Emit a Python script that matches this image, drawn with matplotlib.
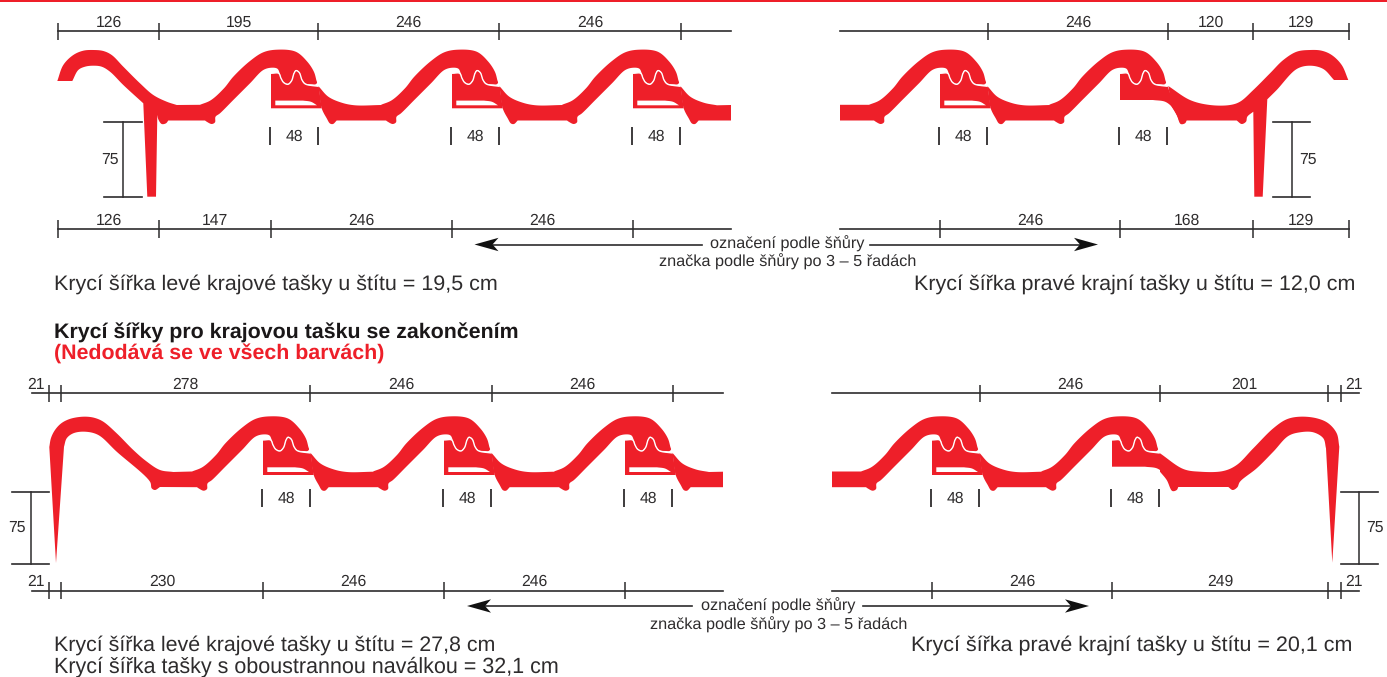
import numpy as np
import matplotlib
matplotlib.use('Agg')
import matplotlib.pyplot as plt

plt.rcParams['font.family'] = ['Liberation Sans', 'DejaVu Sans']
plt.rcParams['text.hinting'] = 'no_hinting'

RED = '#ee1f29'
INK = '#2e2c2d'

# dimension rows: tick x positions, labels between them
top_ticks_a = [58, 159, 318, 499, 681]
top_labels_a = ['126', '195', '246', '246']
bot_ticks_a = [58, 159, 271, 452, 633]
bot_labels_a = ['126', '147', '246', '246']
top_ticks_b = [988, 1168, 1253, 1349]
top_labels_b = ['246', '120', '129']
bot_ticks_b = [940, 1120, 1253, 1349]
bot_labels_b = ['246', '168', '129']
top_ticks_c = [61, 310, 492, 673]
top_labels_c = ['278', '246', '246']
bot_ticks_c = [61, 263, 444, 625]
bot_labels_c = ['230', '246', '246']
top_ticks_d = [980, 1160, 1328]
top_labels_d = ['246', '201']
bot_ticks_d = [932, 1112, 1328]
bot_labels_d = ['246', '249']

heads_a = [271, 452, 633]
heads_b = [940, 1120]
heads_c = [263, 444, 625]
heads_d = [932, 1112]
row_shift = 366.7
head_y = 73.3

# tile outline, relative to the head of a module (x) and the head top (y)
squiggle = [(0, 0), (7.7, 0), (10, 5), (12.7, 9.3), (17, 11), (20.7, 7.3), (22.7, 0.7), (25, -2.7), (28.3, -0.7),
            (31, 6.7), (34.3, 10.7), (47.7, 13)]
valley_up = [(48, 13.5), (57.3, 23.4), (70.7, 29.4), (84, 32), (110.7, 31.7)]
crest = [(-71, 31.5), (-60.3, 27), (-47, 15), (-37.7, 3.4), (-21, -12.3), (-7.7, -21), (5.7, -23.6), (24.7, -21.6),
         (36.3, -11.6), (43, -1.3), (45.3, 6.7), (46, 9.5), (44.5, 11), (41, 11), (36, 10.7), (34.3, 10.2),
         (31, 6.2), (28.3, -1.2), (25, -3.2), (22.7, 0.2), (20.7, 6.8), (17, 10.5), (12.7, 8.8), (10, 4.5),
         (9, 1), (6.5, -4.5), (0.7, -5.6), (-7.7, -3.3), (-21, 10), (-37.7, 26.7), (-51, 40), (-55.5, 43.5),
         (-56, 49), (-59.3, 50.7), (-64.3, 48.4), (-66, 47.2)]
valley_low = [(65.7, 47.2), (62, 50.7), (59, 50.2), (55.7, 45), (50.7, 35), (47.5, 13)]
slot_top = [(32, 27.3), (40, 28.5), (46, 32)]
short_under = [(60.7, 50.7), (56.7, 41.7), (51.7, 33.4), (45, 28.4), (33, 26.7)]


def smooth(pts, n=12):
    # centripetal catmull-rom through the outline points
    p = np.array(pts, float)
    p = np.vstack([2 * p[0] - p[1], p, 2 * p[-1] - p[-2]])
    out = []
    for i in range(1, len(p) - 2):
        p0, p1, p2, p3 = p[i - 1], p[i], p[i + 1], p[i + 2]
        t0 = 0.0
        t1 = t0 + np.linalg.norm(p1 - p0) ** 0.5
        t2 = t1 + np.linalg.norm(p2 - p1) ** 0.5
        t3 = t2 + np.linalg.norm(p3 - p2) ** 0.5
        for t in np.linspace(t1, t2, n, endpoint=False):
            a1 = (t1 - t) / (t1 - t0) * p0 + (t - t0) / (t1 - t0) * p1
            a2 = (t2 - t) / (t2 - t1) * p1 + (t - t1) / (t2 - t1) * p2
            a3 = (t3 - t) / (t3 - t2) * p2 + (t - t2) / (t3 - t2) * p3
            b1 = (t2 - t) / (t2 - t0) * a1 + (t - t0) / (t2 - t0) * a2
            b2 = (t3 - t) / (t3 - t1) * a2 + (t - t1) / (t3 - t1) * a3
            out.append((t2 - t) / (t2 - t1) * b1 + (t - t1) / (t2 - t1) * b2)
    out.append(p[-2])
    return np.array(out)


def rel(pts, h, dy):
    return [(x + h, y + head_y + dy) for x, y in pts]


def poly(ax, parts, color=RED, zorder=2):
    ax.fill(*np.vstack(parts).T, color=color, lw=0, zorder=zorder)


def head_body(ax, h, dy, slot=True):
    top = smooth(rel(squiggle, h, dy))
    if slot:
        poly(ax, [top, rel([(50.7, 35), (0, 35)], h, dy)])
        poly(ax, [rel([(4.3, 27.3)], h, dy), smooth(rel(slot_top, h, dy)), rel([(4.3, 32)], h, dy)],
             color='white', zorder=3)
    else:
        poly(ax, [top, smooth(rel(short_under, h, dy)), rel([(0, 26.7)], h, dy)])
    ax.plot(*top.T, color='white', lw=1.0, zorder=4, solid_capstyle='butt')


def module(ax, h, next_h, dy):
    poly(ax, [smooth(rel(valley_up, h, dy)), smooth(rel(crest, next_h, dy)), smooth(rel(valley_low, h, dy))])


def tail_end(ax, h, end_x, dy):
    y0 = head_y + dy
    poly(ax, [smooth(rel(valley_up[:-1], h, dy)), [(end_x, y0 + 31.7), (end_x, y0 + 47.2)],
              smooth(rel(valley_low, h, dy))])


def left_start(ax, start_x, next_h, dy):
    y0 = head_y + dy
    poly(ax, [[(start_x, y0 + 31.5)], smooth(rel(crest, next_h, dy)), [(start_x, y0 + 47.2)]])


def dims(ax, ticks, labels, y, label_y, x0=None, x1=None):
    ax.plot([x0 if x0 else ticks[0], x1 if x1 else ticks[-1]], [y, y], color=INK, lw=1.2, zorder=1)
    ax.vlines(ticks, y - 8.7, y + 8.7, color=INK, lw=1.1)
    for a, b, s in zip(ticks, ticks[1:], labels):
        ax.text((a + b) / 2, label_y, s, ha='center', va='center', color=INK, fontsize=11.3)


def height_mark(ax, x, y1, y2, x0, x1, label, label_x):
    ax.plot([x, x], [y1, y2], color=INK, lw=1.1)
    ax.plot([x0, x1], [y1, y1], color=INK, lw=1.2)
    ax.plot([x0, x1], [y2, y2], color=INK, lw=1.2)
    ax.text(label_x, (y1 + y2) / 2, label, ha='center', va='center', color=INK, fontsize=11.3)


def width_48(ax, heads, y):
    for h in heads:
        ax.vlines([h - 0.7, h + 47.3], y - 8.7, y + 8.7, color=INK, lw=1.3)
        ax.text(h + 23.3, y + 0.5, '48', ha='center', va='center', color=INK, fontsize=11.3)


def arrow(ax, x0, x1, y):
    # line with a barbed head
    d = 1 if x1 > x0 else -1
    ax.plot([x0, x1 - d * 18], [y, y], color=INK, lw=1.2)
    ax.fill([x1, x1 - d * 24, x1 - d * 18, x1 - d * 24], [y, y - 6.7, y, y + 6.7], color='#111111', lw=0, zorder=3)


fig = plt.figure(figsize=(13.87, 6.77), dpi=100)
ax = fig.add_axes([0, 0, 1, 1])
ax.set_xlim(0, 1387)
ax.set_ylim(677, 0)
ax.axis('off')

ax.fill_between([0, 1387], 0, 2, color=RED, lw=0)

# -- upper left tile --
poly(ax, [smooth([(57.3, 81), (63.3, 65), (73.3, 55), (83.3, 50.7), (93.3, 50), (103.3, 51), (111.7, 55),
                  (123.3, 66.7), (140, 83.3), (153.3, 95), (166.7, 101.7), (176.7, 105)]),
          smooth(rel(crest, heads_a[0], 0)),
          smooth([(168.3, 120.5), (166, 123.3), (161.7, 124), (158.3, 119.3), (157.3, 115)]),
          [(156, 196.7), (147.3, 196.7), (143.3, 103.3)],
          smooth([(143.3, 103.3), (123.3, 85), (110, 71.7), (101.7, 66.7), (93.3, 65.7), (85, 66.7), (78.3, 70),
                  (72.3, 81)])])
for h in heads_a:
    head_body(ax, h, 0)
module(ax, heads_a[0], heads_a[1], 0)
module(ax, heads_a[1], heads_a[2], 0)
tail_end(ax, heads_a[2], 731, 0)

# -- upper right tile --
left_start(ax, 840, heads_b[0], 0)
module(ax, heads_b[0], heads_b[1], 0)
head_body(ax, heads_b[0], 0)
head_body(ax, heads_b[1], 0, slot=False)
poly(ax, [smooth([(1168.3, 86), (1190, 100), (1210, 105), (1230, 105), (1240, 101.7), (1253.3, 90), (1270, 73.3),
                  (1283.3, 60), (1296.7, 51.7), (1310, 50), (1321.7, 50.7), (1331.7, 55), (1341.7, 65),
                  (1348.3, 80)]),
          smooth([(1334, 80), (1323.3, 69), (1310, 65.7), (1296.7, 69), (1276.7, 90), (1267.3, 99.3)]),
          [(1262.7, 196.7), (1254.3, 196.7), (1253.3, 111.7)],
          smooth([(1253.3, 111.7), (1247.3, 116.7), (1246, 121.7), (1241.7, 124), (1236.7, 120.5)]),
          smooth([(1186.7, 120.5), (1185, 123.3), (1180.7, 124), (1176.7, 115), (1171.7, 106.7)])])

# -- lower left tile --
poly(ax, [[(56, 563)],
          smooth([(49.3, 447), (51, 438), (55, 430), (61, 423.5), (68.3, 419.5), (77, 417.3), (86.7, 416.7),
                  (95, 418), (103.3, 421.7), (116.7, 433.3), (133.3, 450), (146, 461), (160, 470), (173.3, 472)]),
          smooth(rel(crest, heads_c[0], row_shift)),
          smooth([(160, 487), (155, 490), (151.7, 488.3), (150, 481.7), (116.7, 451.7), (98.3, 435), (85, 431.7),
                  (73.3, 433.3), (66.7, 438.3), (64, 446.7)])])
for h in heads_c:
    head_body(ax, h, row_shift)
module(ax, heads_c[0], heads_c[1], row_shift)
module(ax, heads_c[1], heads_c[2], row_shift)
tail_end(ax, heads_c[2], 723, row_shift)

# -- lower right tile --
left_start(ax, 832, heads_d[0], row_shift)
module(ax, heads_d[0], heads_d[1], row_shift)
head_body(ax, heads_d[0], row_shift)
head_body(ax, heads_d[1], row_shift, slot=False)
poly(ax, [smooth([(1160, 453.3), (1183.3, 469), (1200, 471.7), (1223.3, 471), (1236.7, 465), (1253.3, 448.3),
                  (1273.3, 428.3), (1286.7, 419.3), (1300, 416.7), (1316.7, 418.3), (1328.3, 423.3),
                  (1336.7, 433.3), (1339.3, 446.7)]),
          [(1332.3, 562.7)],
          smooth([(1326, 448.3), (1323.3, 438.3), (1313.3, 432.3), (1300, 432.3), (1288.3, 436), (1273.3, 451.7),
                  (1256.7, 468.3), (1240, 481.7), (1237.3, 487.3), (1232.7, 490), (1228.3, 487)]),
          smooth([(1178.3, 487), (1176.7, 490), (1172.3, 491), (1166.7, 480), (1160, 471.7)])])

# -- dimensions --
dims(ax, top_ticks_a, top_labels_a, 31.3, 22.5, x1=731)
dims(ax, bot_ticks_a, bot_labels_a, 229, 220.5, x1=731)
dims(ax, top_ticks_b, top_labels_b, 31.3, 22.5, x0=840)
dims(ax, bot_ticks_b, bot_labels_b, 229, 220.5, x0=840)
dims(ax, top_ticks_c, top_labels_c, 393.3, 384.5, x0=32, x1=723)
dims(ax, bot_ticks_c, bot_labels_c, 590.7, 582, x0=32, x1=723)
dims(ax, top_ticks_d, top_labels_d, 393.3, 384.5, x0=832, x1=1359)
dims(ax, bot_ticks_d, bot_labels_d, 590.7, 582, x0=832, x1=1359)

for y, ly in [(393.3, 384.5), (590.7, 582)]:
    ax.vlines([49.3, 1340.7], y - 8.7, y + 8.7, color=INK, lw=1.1)
    ax.text(36, ly, '21', ha='center', va='center', color=INK, fontsize=11.3)
    ax.text(1353.5, ly, '21', ha='center', va='center', color=INK, fontsize=11.3)

height_mark(ax, 123.3, 121.7, 197, 104, 141.7, '75', 110)
height_mark(ax, 1291.7, 121.7, 197, 1272.7, 1310, '75', 1308)
height_mark(ax, 31, 492.3, 564, 12.3, 49.3, '75', 17.3)
height_mark(ax, 1359.3, 492.3, 564, 1340.7, 1377.7, '75', 1375)

width_48(ax, heads_a, 136)
width_48(ax, heads_b, 136)
width_48(ax, heads_c, 497.8)
width_48(ax, heads_d, 497.8)

# -- string line markers --
arrow(ax, 702, 474.5, 244.5)
arrow(ax, 870, 1098, 244.5)
ax.text(787, 244, 'označení podle šňůry', ha='center', va='center', color=INK, fontsize=11.7)
ax.text(787.5, 262, 'značka podle šňůry po 3 – 5 řadách', ha='center', va='center', color=INK, fontsize=11.7)
arrow(ax, 692, 467, 606)
arrow(ax, 863, 1089, 606)
ax.text(778.5, 606, 'označení podle šňůry', ha='center', va='center', color=INK, fontsize=11.7)
ax.text(779, 624.5, 'značka podle šňůry po 3 – 5 řadách', ha='center', va='center', color=INK, fontsize=11.7)

# -- captions --
ax.text(54, 284, 'Krycí šířka levé krajové tašky u štítu = 19,5 cm', va='center', color=INK, fontsize=15.45)
ax.text(914, 284, 'Krycí šířka pravé krajní tašky u štítu = 12,0 cm', va='center', color=INK, fontsize=15.45)
ax.text(54, 645, 'Krycí šířka levé krajové tašky u štítu = 27,8 cm', va='center', color=INK, fontsize=15.4)
ax.text(911, 645, 'Krycí šířka pravé krajní tašky u štítu = 20,1 cm', va='center', color=INK, fontsize=15.45)
ax.text(54, 667, 'Krycí šířka tašky s oboustrannou naválkou = 32,1 cm', va='center', color=INK, fontsize=15.5)
ax.text(54, 333, 'Krycí šířky pro krajovou tašku se zakončením', va='center', color='#1a1718', fontsize=15.4,
        fontweight='bold')
ax.text(54, 354, '(Nedodává se ve všech barvách)', va='center', color=RED, fontsize=15.4, fontweight='bold')

fig.savefig('out.png', dpi=100)
